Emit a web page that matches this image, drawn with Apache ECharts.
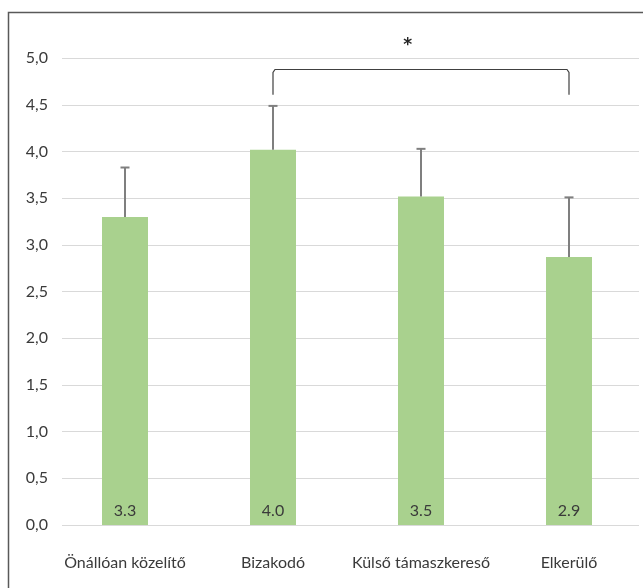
<!DOCTYPE html>
<html><head><meta charset="utf-8">
<script src="https://cdn.jsdelivr.net/npm/echarts@6/dist/echarts.min.js"></script>
<style>html,body{margin:0;padding:0;background:#fff}#c{width:643px;height:588px}</style>
</head><body><div id="c"></div>
<script>
const categories = ['Önállóan közelítő', 'Bizakodó', 'Külső támaszkereső', 'Elkerülő'];
const means = [3.30, 4.02, 3.52, 2.87];
const errorsUp = [0.53, 0.47, 0.51, 0.64];
const yMin = 0, yMax = 5, yStep = 0.5;
const bracketCats = [1, 3];
const bracketLow = 4.61, bracketHigh = 4.88;
const starValue = 5.17;
const starText = '*';

const FONT = 'Lato';
const TXT = '#3a3a3a';

const chart = echarts.init(document.getElementById('c'), null, {renderer: 'canvas'});
const gridTop = 58.3, gridBottom = 63;

chart.setOption({
  animation: false,
  backgroundColor: '#fff',
  textStyle: {fontFamily: FONT},
  grid: [
    {left: 62, right: 4, top: gridTop, bottom: gridBottom},
    {left: 51, right: -1, top: gridTop, bottom: gridBottom}
  ],
  xAxis: [
    {gridIndex: 0, type: 'value', show: false, min: 0, max: 1},
    {gridIndex: 1, type: 'category', data: categories,
     axisLine: {show: false}, axisTick: {show: false},
     axisLabel: {interval: 0, margin: 30, color: TXT, fontSize: 16, fontFamily: FONT}}
  ],
  yAxis: [
    {gridIndex: 0, type: 'value', min: yMin, max: yMax, interval: yStep,
     axisLine: {show: false}, axisTick: {show: false},
     axisLabel: {margin: 14, color: TXT, fontSize: 16, fontFamily: FONT,
                 formatter: v => v.toFixed(1).replace('.', ',')},
     splitLine: {lineStyle: {color: '#d9d9d9', width: 1.2}}},
    {gridIndex: 1, type: 'value', min: yMin, max: yMax, interval: yStep, show: false,
     splitLine: {show: false}}
  ],
  series: [
    {type: 'bar', xAxisIndex: 1, yAxisIndex: 1, data: means, barWidth: 46,
     itemStyle: {color: '#a9d18e'},
     label: {show: true, position: 'insideBottom', distance: 6, color: TXT,
             fontSize: 16, fontFamily: FONT, formatter: p => p.value.toFixed(1)}},
    {type: 'custom', xAxisIndex: 1, yAxisIndex: 1,
     data: means.map((m, i) => [i, m, m + errorsUp[i]]),
     encode: {x: 0, y: [1, 2]},
     z: 5,
     renderItem: (params, api) => {
       const p1 = api.coord([api.value(0), api.value(1)]);
       const p2 = api.coord([api.value(0), api.value(2)]);
       const st = {stroke: '#7f7f7f', lineWidth: 2};
       return {type: 'group', children: [
         {type: 'line', shape: {x1: p1[0], y1: p1[1], x2: p2[0], y2: p2[1]}, style: st},
         {type: 'line', shape: {x1: p2[0] - 4.5, y1: p2[1], x2: p2[0] + 4.5, y2: p2[1]}, style: st}
       ]};
     }}
  ]
});

const a = chart.convertToPixel({xAxisIndex: 1, yAxisIndex: 1}, [bracketCats[0], bracketLow]);
const b = chart.convertToPixel({xAxisIndex: 1, yAxisIndex: 1}, [bracketCats[1], bracketHigh]);
const s = chart.convertToPixel({xAxisIndex: 1, yAxisIndex: 1}, [bracketCats[0], starValue]);
const x1 = a[0], x2 = b[0], yb = a[1], yt = b[1];
const sx = x1 + (x2 - x1) * 0.455;

chart.setOption({
  graphic: [
    {type: 'rect', shape: {x: 8.5, y: 12.5, width: 700, height: 700},
     style: {fill: 'none', stroke: '#595959', lineWidth: 1.5}, z: 10},
    {type: 'polyline', shape: {points: [[x1, yb], [x1, yt + 3], [x1 + 2, yt], [x2 - 2, yt], [x2, yt + 3], [x2, yb]]},
     style: {stroke: '#404040', lineWidth: 1.2, fill: 'none'}, z: 10},
    {type: 'text', x: sx, y: s[1] + 3,
     style: {text: starText, fill: '#262626', font: 'bold 17px "DejaVu Sans"', align: 'center', verticalAlign: 'middle'}, z: 10}
  ]
});
</script></body></html>
